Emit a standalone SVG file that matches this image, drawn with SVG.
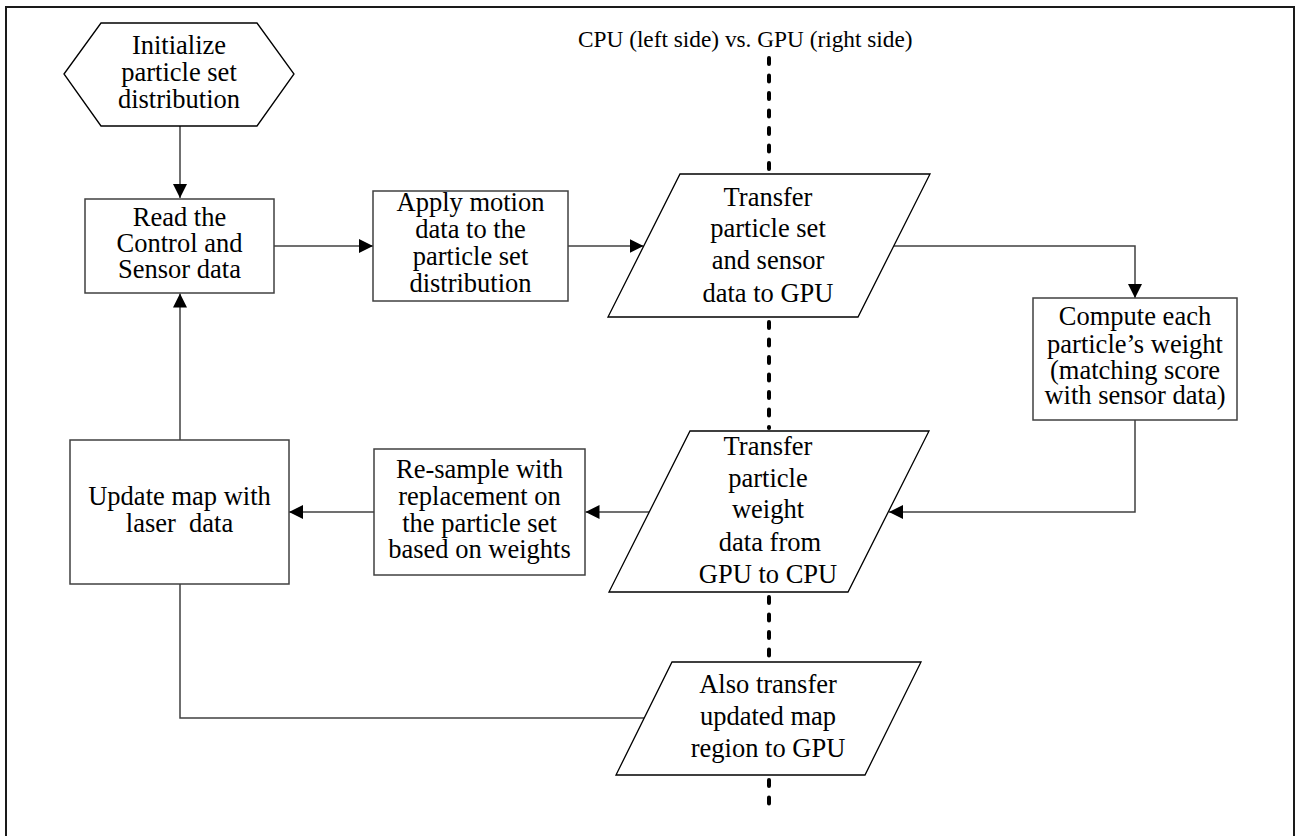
<svg xmlns="http://www.w3.org/2000/svg" width="1297" height="836" viewBox="0 0 1297 836">
<style>
text{font-family:"Liberation Serif","Times New Roman",serif;font-size:26.5px;fill:#000;text-anchor:middle}
.title{font-size:23.3px;text-anchor:start}
.box{fill:#fff;stroke:#404040;stroke-width:1.5}
.para{fill:#fff;stroke:#000;stroke-width:1.3}
.conn{fill:none;stroke:#404040;stroke-width:1.5}
.dots{fill:none;stroke:#000;stroke-width:4;stroke-linecap:round;stroke-dasharray:6 11.5}
</style>
<defs>
<marker id="arr" markerUnits="userSpaceOnUse" markerWidth="16" markerHeight="14" refX="14" refY="7" orient="auto">
<path d="M0,0 L14,7 L0,14 Z" fill="#000"/>
</marker>
</defs>
<rect x="6" y="7" width="1288" height="845" fill="#fff" stroke="#1a1a1a" stroke-width="2"/>
<text class="title" x="578" y="47">CPU (left side) vs. GPU (right side)</text>
<g id="divider">
<line class="dots" x1="769" y1="58" x2="769" y2="172"/>
<line class="dots" x1="769" y1="322" x2="769" y2="428"/>
<line class="dots" x1="769" y1="597" x2="769" y2="660"/>
<line class="dots" x1="769" y1="780" x2="769" y2="812"/>
</g>
<g id="connectors">
<line class="conn" x1="180" y1="126" x2="180" y2="198" marker-end="url(#arr)"/>
<line class="conn" x1="274" y1="246" x2="373" y2="246" marker-end="url(#arr)"/>
<line class="conn" x1="568" y1="246" x2="643.5" y2="246" marker-end="url(#arr)"/>
<polyline class="conn" points="894,246 1135,246 1135,298" marker-end="url(#arr)"/>
<polyline class="conn" points="1135,420 1135,512 889,512" marker-end="url(#arr)"/>
<line class="conn" x1="649" y1="512" x2="585.5" y2="512" marker-end="url(#arr)"/>
<line class="conn" x1="374" y1="512" x2="289" y2="512" marker-end="url(#arr)"/>
<line class="conn" x1="180" y1="440" x2="180" y2="293.5" marker-end="url(#arr)"/>
<polyline class="conn" points="180,584 180,718 644,718"/>
</g>
<g id="init">
<polygon class="para" points="64,74 101,23 257,23 294,74 257,126 101,126"/>
<text x="179" y="54">Initialize</text>
<text x="179" y="81">particle set</text>
<text x="179" y="108">distribution</text>
</g>
<g id="read">
<rect class="box" x="85" y="199" width="189" height="94"/>
<text x="179.5" y="226">Read the</text>
<text x="179.5" y="252">Control and</text>
<text x="179.5" y="278">Sensor data</text>
</g>
<g id="apply">
<rect class="box" x="373" y="191" width="195" height="110"/>
<text x="470.5" y="211">Apply motion</text>
<text x="470.5" y="238">data to the</text>
<text x="470.5" y="265">particle set</text>
<text x="470.5" y="292">distribution</text>
</g>
<g id="transfer1">
<polygon class="para" points="680,174 930,174 858,317 608,317"/>
<text x="768" y="206">Transfer</text>
<text x="768" y="237">particle set</text>
<text x="768" y="269">and sensor</text>
<text x="768" y="302">data to GPU</text>
</g>
<g id="compute">
<rect class="box" x="1033" y="298" width="204" height="122"/>
<text x="1135" y="325">Compute each</text>
<text x="1135" y="353">particle’s weight</text>
<text x="1135" y="379">(matching score</text>
<text x="1135" y="404">with sensor data)</text>
</g>
<g id="transfer2">
<polygon class="para" points="690,431 929,431 848,592 609,592"/>
<text x="768" y="455">Transfer</text>
<text x="768" y="487">particle</text>
<text x="768" y="518">weight</text>
<text x="770" y="551">data from</text>
<text x="768" y="583">GPU to CPU</text>
</g>
<g id="resample">
<rect class="box" x="374" y="449" width="211" height="126"/>
<text x="479.5" y="478">Re-sample with</text>
<text x="479.5" y="505">replacement on</text>
<text x="479.5" y="532">the particle set</text>
<text x="479.5" y="558">based on weights</text>
</g>
<g id="update">
<rect class="box" x="70" y="440" width="219" height="144"/>
<text x="179.5" y="505">Update map with</text>
<text x="179.5" y="532" xml:space="preserve">laser  data</text>
</g>
<g id="alsotransfer">
<polygon class="para" points="672,662 921,662 865,775 616,775"/>
<text x="768" y="693">Also transfer</text>
<text x="768" y="725">updated map</text>
<text x="768" y="757">region to GPU</text>
</g>
</svg>
